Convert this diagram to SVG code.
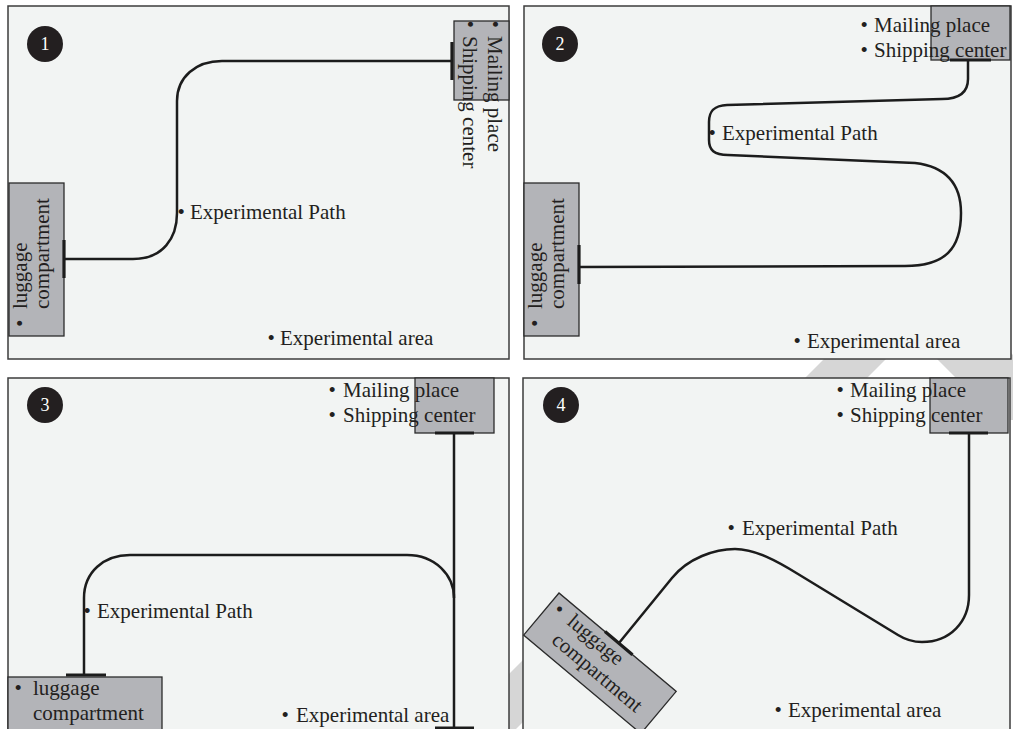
<svg xmlns="http://www.w3.org/2000/svg" width="1013" height="729" viewBox="0 0 1013 729">
  <style>
    text { font-family: "Liberation Serif", "Times New Roman", serif; font-size: 21px; fill: #231f20; }
    .panel { fill: #f2f4f3; stroke: #3c3c3c; stroke-width: 1.5; }
    .box { fill: #b3b4b8; stroke: #2b2b2b; stroke-width: 1.3; }
    .badge { fill: #231f20; }
    .num { fill: #ffffff; font-size: 18px; text-anchor: middle; }
    .route { fill: none; stroke: #1c1c1c; stroke-width: 2.5; stroke-linejoin: round; }
    .bar { fill: none; stroke: #1c1c1c; stroke-width: 3.2; }
    .band { fill: #d6d6d6; }
  </style>

  <!-- background -->
  <rect x="0" y="0" width="1013" height="729" fill="#ffffff"/>

  <!-- faint diagonal bands behind the panels -->
  <g id="backdrop">
    <polygon class="band" points="883,300 945,300 445,800 383,800"/>
    <polygon class="band" points="878,300 958,300 1078,420 998,420"/>
  </g>

  <!-- panel frames -->
  <g id="panel-1"><rect class="panel" x="8" y="6" width="501" height="353"/></g>
  <g id="panel-2"><rect class="panel" x="524" y="6" width="487" height="353"/></g>
  <g id="panel-3"><rect class="panel" x="8" y="378" width="501" height="370"/></g>
  <g id="panel-4"><rect class="panel" x="523" y="378" width="487" height="370"/></g>

  <!-- panel numbers -->
  <g id="badge-1"><circle class="badge" cx="45" cy="44" r="18"/><text class="num" x="45" y="50">1</text></g>
  <g id="badge-2"><circle class="badge" cx="560" cy="44" r="18"/><text class="num" x="560" y="50">2</text></g>
  <g id="badge-3"><circle class="badge" cx="45" cy="405" r="18"/><text class="num" x="45" y="411">3</text></g>
  <g id="badge-4"><circle class="badge" cx="561" cy="405" r="18"/><text class="num" x="561" y="411">4</text></g>

  <!-- panel 1 -->
  <g id="p1-luggage">
    <rect class="box" x="9" y="183" width="55" height="153"/>
    <text transform="rotate(-90)">
      <tspan x="-327" y="27">•</tspan><tspan x="-309" y="27">luggage</tspan>
      <tspan x="-309" y="49">compartment</tspan>
    </text>
  </g>
  <g id="p1-mailing">
    <rect class="box" x="454" y="21" width="55" height="79"/>
    <text transform="translate(488,0) rotate(90)">
      <tspan x="20.5" y="0">•</tspan><tspan x="36" y="0">Mailing place</tspan>
      <tspan x="20.5" y="25">•</tspan><tspan x="36" y="25">Shipping center</tspan>
    </text>
  </g>
  <g id="p1-path-label"><text><tspan x="177.5" y="219">•</tspan><tspan x="190" y="219">Experimental Path</tspan></text></g>
  <g id="p1-area-label"><text><tspan x="267.5" y="345">•</tspan><tspan x="280" y="345">Experimental area</tspan></text></g>

  <!-- panel 2 -->
  <g id="p2-luggage">
    <rect class="box" x="524" y="183" width="55" height="153"/>
    <text transform="rotate(-90)">
      <tspan x="-327" y="542">•</tspan><tspan x="-309" y="542">luggage</tspan>
      <tspan x="-309" y="564">compartment</tspan>
    </text>
  </g>
  <g id="p2-mailing">
    <rect class="box" x="931" y="6" width="79" height="54"/>
    <text>
      <tspan x="860.5" y="32">•</tspan><tspan x="874" y="32">Mailing place</tspan>
      <tspan x="860.5" y="57">•</tspan><tspan x="874" y="57">Shipping center</tspan>
    </text>
  </g>
  <g id="p2-path-label"><text><tspan x="708.5" y="140">•</tspan><tspan x="722" y="140">Experimental Path</tspan></text></g>
  <g id="p2-area-label"><text><tspan x="793.5" y="348">•</tspan><tspan x="807" y="348">Experimental area</tspan></text></g>

  <!-- panel 3 -->
  <g id="p3-luggage">
    <rect class="box" x="8" y="677" width="154" height="70"/>
    <text>
      <tspan x="14.5" y="695">•</tspan><tspan x="33" y="695">luggage</tspan>
      <tspan x="33" y="720">compartment</tspan>
    </text>
  </g>
  <g id="p3-mailing">
    <rect class="box" x="415" y="378" width="79" height="55"/>
    <text>
      <tspan x="328.5" y="397">•</tspan><tspan x="343" y="397">Mailing place</tspan>
      <tspan x="328.5" y="422">•</tspan><tspan x="343" y="422">Shipping center</tspan>
    </text>
  </g>
  <g id="p3-path-label"><text><tspan x="83.5" y="618">•</tspan><tspan x="97" y="618">Experimental Path</tspan></text></g>
  <g id="p3-area-label"><text><tspan x="281.5" y="722">•</tspan><tspan x="296" y="722">Experimental area</tspan></text></g>

  <!-- panel 4 -->
  <g id="p4-luggage" transform="translate(559,593) rotate(40)">
    <rect class="box" x="0" y="0" width="153" height="55"/>
    <text>
      <tspan x="7" y="19">•</tspan><tspan x="25" y="19">luggage</tspan>
      <tspan x="25" y="43">compartment</tspan>
    </text>
  </g>
  <g id="p4-mailing">
    <rect class="box" x="930" y="378" width="78" height="55"/>
    <text>
      <tspan x="836.5" y="397">•</tspan><tspan x="850" y="397">Mailing place</tspan>
      <tspan x="836.5" y="422">•</tspan><tspan x="850" y="422">Shipping center</tspan>
    </text>
  </g>
  <g id="p4-path-label"><text><tspan x="727.5" y="535">•</tspan><tspan x="742" y="535">Experimental Path</tspan></text></g>
  <g id="p4-area-label"><text><tspan x="774.5" y="717">•</tspan><tspan x="788" y="717">Experimental area</tspan></text></g>

  <!-- routes and their end bars -->
  <g id="connectors">
    <!-- panel 1 -->
    <path class="route" d="M64,259 H133 C163,259 177,238 177,213 V101 C177,77 196,61 222,61 H452"/>
    <path class="bar" d="M64,240 V278 M452,42 V80"/>
    <!-- panel 2 -->
    <path class="route" d="M968,60 V79 C968,93 958,99 942,99 L727,105 C713,105.5 709,112 709,122 V140 C709,150 714,155 728,155 L915,163 C948,167 961,185 961,213 C961,248 946,266 905,266 L579,267"/>
    <path class="bar" d="M950,60 H991 M579,245 V284"/>
    <!-- panel 3 -->
    <path class="route" d="M84,675 V598 C84,572 104,555 130,555 H407 C435,555 454,575 454,598"/>
    <path class="route" d="M454,433 V728"/>
    <path class="bar" d="M66,675 H106 M435,433 H474 M435,728 H474"/>
    <!-- panel 4 -->
    <path class="route" d="M969,433 V595 C969,622 950,642 922,642 C913,642 906,640 898,635 L798,574 C777,561 755,549 735,549 C715,549 688,558 672,578 L619,643"/>
    <path class="bar" d="M605,631.6 L632.5,654.7 M949,433 H988"/>
  </g>
</svg>
